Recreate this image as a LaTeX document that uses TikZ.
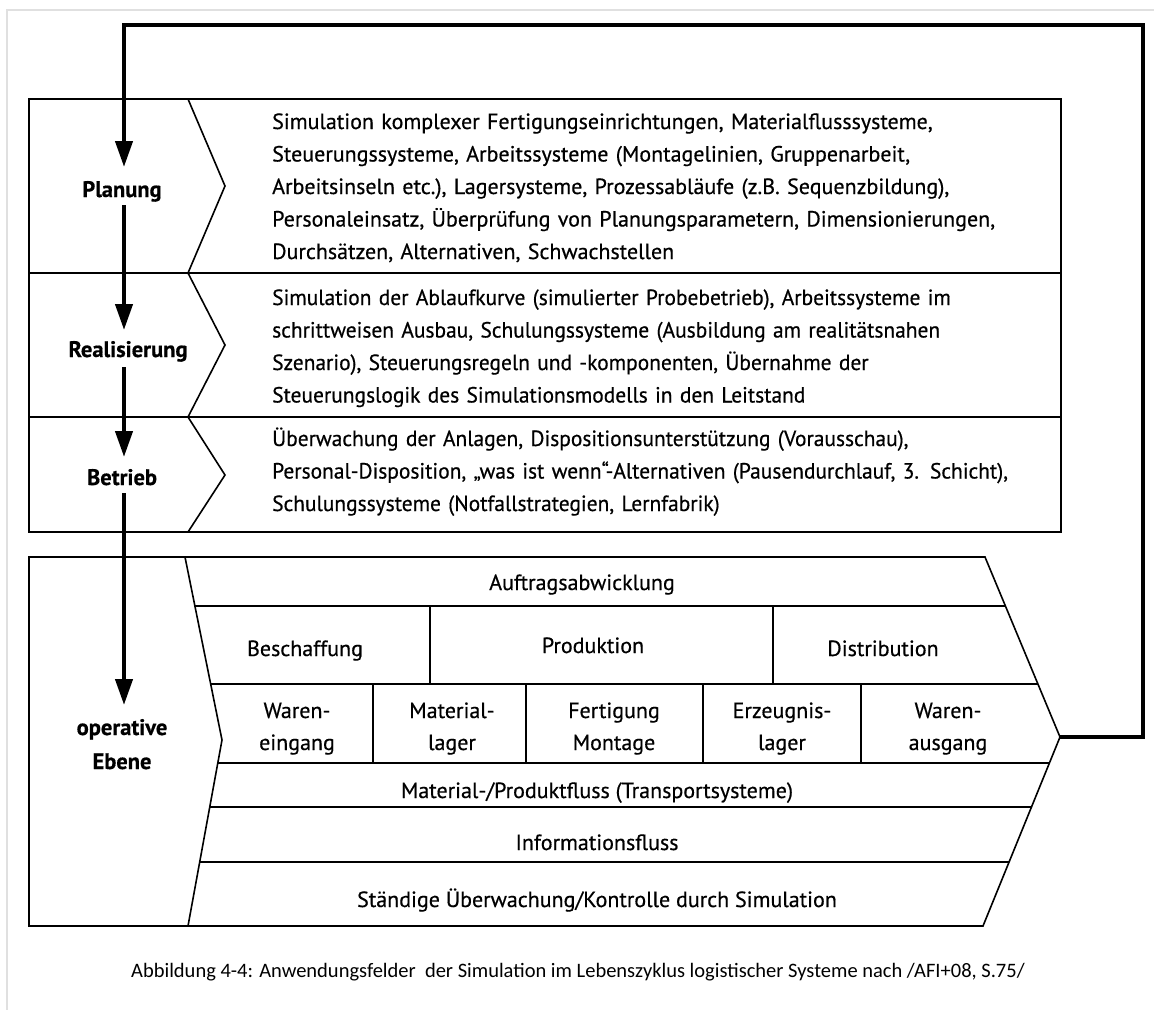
\documentclass[tikz,border=0pt]{standalone}
\usepackage{fontspec}
\setmainfont{PT Sans}[FakeBold=0.5]
\newfontfamily\narrowfont{PT Sans}[FakeStretch=0.975, FakeBold=0.5]
\newfontfamily\capfont{Carlito}
\usetikzlibrary{arrows.meta,calc}

\begin{document}
\begin{tikzpicture}[x=1pt,y=-1pt,
  box/.style={line width=1.6pt, line join=miter},
  heavy/.style={line width=2.8pt},
  flow/.style={line width=4.2pt, line join=miter, -{Triangle[length=26pt,width=17pt]}},
  phase/.style={font=\bfseries\fontsize{22.5}{34}\selectfont, text width=160pt, align=center, inner sep=0pt, anchor=base},
  desc/.style={font=\fontsize{22}{32.5}\selectfont, text width=840pt, align=left, inner sep=0pt, anchor=base west},
  ndesc/.style={desc, font=\narrowfont\fontsize{22}{32.5}\selectfont},
  cell/.style={font=\fontsize{22}{32}\selectfont, text width=170pt, align=center, inner sep=0pt, anchor=base},
  band/.style={font=\fontsize{22}{32}\selectfont, inner sep=0pt, anchor=base},
]
\useasboundingbox (0,0) rectangle (1154,1010);
\fill[white] (0,0) rectangle (1154,1010);
% thin page frame
\draw[black!12, line width=1.2pt] (7,1010) -- (7,10) -- (1154,10);

% ---------- upper block: planning, realisation, operation ----------
\draw[box] (29,99) rectangle (1061,532);
\draw[box] (29,273) -- (1061,273);
\draw[box] (29,417) -- (1061,417);
\draw[box] (188,99) -- (225,186) -- (188,273) -- (225,345) -- (188,417) -- (225,475) -- (188,532);

\node[phase] (planung) at (122,197) {Planung};
\node[phase] (realisierung) at (128,357) {Realisierung};
\node[phase] (betrieb) at (122,485) {Betrieb};
\node[phase] (operativ) at (122,735) {operative\\Ebene};

\node[desc] (tplan) at (272,129) {Simulation komplexer Fertigungseinrichtungen, Materialflusssysteme,\\
Steuerungssysteme, Arbeitssysteme (Montagelinien, Gruppenarbeit,\\
Arbeitsinseln etc.), Lagersysteme, Prozessabläufe (z.B. Sequenzbildung),\\
Personaleinsatz, Überprüfung von Planungsparametern, Dimensionierungen,\\
Durchsätzen, Alternativen, Schwachstellen};

\node[ndesc] (treal) at (272,305) {Simulation der Ablaufkurve (simulierter Probebetrieb), Arbeitssysteme im\\
schrittweisen Ausbau, Schulungssysteme (Ausbildung am realitätsnahen\\
Szenario), Steuerungsregeln und -komponenten, Übernahme der\\
Steuerungslogik des Simulationsmodells in den Leitstand};

\node[ndesc] (tbetr) at (272,446) {Überwachung der Anlagen, Dispositionsunterstützung (Vorausschau),\\
Personal-Disposition, „was ist wenn“-Alternativen (Pausendurchlauf, 3. Schicht),\\
Schulungssysteme (Notfallstrategien, Lernfabrik)};

% ---------- lower block: operative level ----------
\coordinate (optip) at (1060,737);
\draw[box] (29,557) -- (985,557) -- (optip) -- (983,926) -- (29,926) -- cycle;
\draw[box] (185,557) -- (222,740) -- (188,926);

\draw[box] (195,606) -- (1005.4,606);
\draw[box] (210.7,684) -- (1037.9,684);
\draw[box] (217.8,763) -- (1049.4,763);
\draw[box] (209.8,807) -- (1031.5,807);
\draw[heavy] (199.7,862) -- (1009,862);
\draw[box] (430,606) -- (430,684);
\draw[box] (773,606) -- (773,684);
\draw[heavy] (373,684) rectangle (861,763);
\draw[heavy] (526,684) -- (526,763);
\draw[heavy] (703,684) -- (703,763);

\node[band] (auftrag) at (582,590) {Auftragsabwicklung};
\node[band] (beschaffung) at (305,656) {Beschaffung};
\node[band] (produktion) at (593,653) {Produktion};
\node[band] (distribution) at (883,656) {Distribution};
\node[cell] (weingang) at (297,718) {Waren-\\eingang};
\node[cell] (mlager) at (452,718) {Material-\\lager};
\node[cell] (fertigung) at (614,718) {Fertigung\\Montage};
\node[cell] (elager) at (782,718) {Erzeugnis-\\lager};
\node[cell] (wausgang) at (948,718) {Waren-\\ausgang};
\node[band] (matfluss) at (597,798) {Material-/Produktfluss (Transportsysteme)};
\node[band] (infofluss) at (597,850) {Informationsfluss};
\node[band] (kontrolle) at (597,907) {Ständige Überwachung/Kontrolle durch Simulation};

% ---------- life-cycle arrows ----------
\coordinate (spine) at (124,25);
\draw[flow] (optip) -- (1143,737) -- (1143,25) -- (spine)
  -- ($(planung.base -| spine)+(0,-30)$);
\draw[flow] ($(planung.base -| spine)+(0,8)$) -- ($(realisierung.base -| spine)+(0,-27)$);
\draw[flow] ($(realisierung.base -| spine)+(0,10)$) -- ($(betrieb.base -| spine)+(0,-28)$);
\draw[flow] ($(betrieb.base -| spine)+(0,8)$) -- ($(operativ.base -| spine)+(0,-30)$);

% ---------- caption ----------
\node[font=\capfont\fontsize{20.5}{24}\selectfont, inner sep=0pt, anchor=base] (caption) at (578,977)
  {Abbildung 4-4: Anwendungsfelder\ \ der Simulation im Lebenszyklus logistischer Systeme nach /AFI+08, S.75/};
\end{tikzpicture}
\end{document}
